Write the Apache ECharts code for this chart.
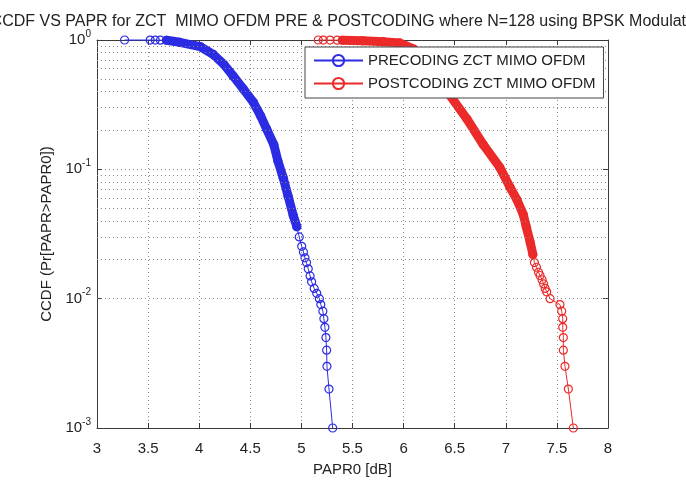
<!DOCTYPE html>
<html>
<head>
<meta charset="utf-8">
<script src="https://cdn.jsdelivr.net/npm/echarts@6/dist/echarts.min.js"></script>
<style>
  html, body { margin: 0; padding: 0; background: #fff; }
  #chart { width: 686px; height: 482px; }
</style>
</head>
<body>
<div id="chart"></div>
<script>
// values: [PAPR0 dB, CCDF]
const preTop = [[3.27, 1.0], [3.52, 0.999], [3.57, 0.998], [3.62, 0.997]];
const preDense = [
  [3.68, 0.996], [3.81, 0.96], [4.01, 0.89], [4.14, 0.77], [4.24, 0.65],
  [4.33, 0.53], [4.43, 0.42], [4.53, 0.33], [4.60, 0.26], [4.66, 0.205],
  [4.73, 0.155], [4.77, 0.116], [4.82, 0.087], [4.87, 0.062], [4.92, 0.044],
  [4.955, 0.036]
];
const preTail = [
  [4.979, 0.030], [5.003, 0.0254], [5.02, 0.023], [5.035, 0.0207], [5.05, 0.019],
  [5.067, 0.017], [5.085, 0.015], [5.10, 0.0135], [5.125, 0.012], [5.15, 0.011],
  [5.176, 0.010], [5.19, 0.009], [5.21, 0.008], [5.22, 0.007], [5.23, 0.006],
  [5.24, 0.005], [5.247, 0.004], [5.25, 0.003], [5.27, 0.002], [5.306, 0.001]
];

const postTop = [[5.165, 1.0], [5.214, 0.999], [5.28, 0.998], [5.35, 0.997]];
const postDense = [
  [5.40, 0.996], [5.60, 0.985], [5.80, 0.97], [5.96, 0.95], [6.10, 0.85],
  [6.25, 0.65], [6.36, 0.50], [6.45, 0.377], [6.62, 0.245], [6.78, 0.155],
  [6.94, 0.104], [7.04, 0.073], [7.11, 0.058], [7.17, 0.045], [7.20, 0.036],
  [7.24, 0.027], [7.265, 0.022]
];
const postTail = [
  [7.28, 0.019], [7.30, 0.0175], [7.32, 0.016], [7.335, 0.0151], [7.355, 0.014],
  [7.37, 0.013], [7.385, 0.012], [7.40, 0.0113], [7.433, 0.010], [7.53, 0.009],
  [7.547, 0.008], [7.557, 0.007], [7.557, 0.006], [7.563, 0.005], [7.563, 0.004],
  [7.579, 0.003], [7.612, 0.002], [7.661, 0.001]
];

const xTicks = [3, 3.5, 4, 4.5, 5, 5.5, 6, 6.5, 7, 7.5, 8];
const yMinorGrid = [0.002, 0.003, 0.004, 0.005, 0.006, 0.007, 0.008, 0.009,
  0.02, 0.03, 0.04, 0.05, 0.06, 0.07, 0.08, 0.09,
  0.2, 0.3, 0.4, 0.5, 0.6, 0.7, 0.8, 0.9];

const titleText = "CCDF VS PAPR for ZCT  MIMO OFDM PRE & POSTCODING where N=128 using BPSK Modulation";
const preName = "PRECODING ZCT MIMO OFDM";
const postName = "POSTCODING ZCT MIMO OFDM";

const FONT = "Liberation Sans";
const BLUE = "#2c2ce4";
const RED = "#ec2a2a";
const AXIS = "#3a3a3a";
const GRIDDOT = { color: "#8a8a8a", width: 1, type: [1, 3] };

const chart = echarts.init(document.getElementById("chart"));

function mainSerie(name, color, data) {
  return {
    name: name,
    type: "line",
    data: data,
    symbol: "circle",
    symbolSize: 8,
    clip: false,
    z: 4,
    itemStyle: { color: "rgba(0,0,0,0)", borderColor: color, borderWidth: 1.2 },
    lineStyle: { color: color, width: 1 },
    emphasis: { disabled: true }
  };
}

function bandSerie(name, color, data) {
  return {
    name: name,
    type: "line",
    data: data,
    symbol: "none",
    clip: false,
    z: 3,
    lineStyle: { color: color, width: 9, cap: "round", join: "round" },
    emphasis: { disabled: true }
  };
}

chart.setOption({
  animation: false,
  backgroundColor: "#fff",
  textStyle: { fontFamily: FONT },
  graphic: [{
    type: "text",
    x: 349,
    y: 22,
    style: {
      text: titleText,
      font: "16px '" + FONT + "'",
      fill: "#222",
      textAlign: "center",
      textVerticalAlign: "middle"
    }
  }],
  grid: { left: 97, right: 78, top: 40, bottom: 41 },
  legend: {
    data: [preName, postName],
    orient: "vertical",
    left: 305,
    top: 47,
    padding: [6, 8, 7, 8],
    itemGap: 8,
    itemWidth: 49,
    itemHeight: 14,
    backgroundColor: "#fff",
    borderColor: "#444",
    borderWidth: 1,
    borderRadius: 0,
    z: 10,
    textStyle: { fontSize: 15, color: "#222", fontFamily: FONT }
  },
  xAxis: [{
    type: "value",
    min: 3,
    max: 8,
    interval: 0.5,
    name: "PAPR0 [dB]",
    nameLocation: "middle",
    nameGap: 34,
    nameTextStyle: { fontSize: 15, color: "#222" },
    axisLine: { lineStyle: { color: AXIS } },
    axisTick: { inside: true, length: 5, lineStyle: { color: AXIS } },
    axisLabel: {
      fontSize: 15, color: "#222", margin: 13,
      formatter: v => xTicks.indexOf(v) >= 0 ? String(v) : ""
    },
    splitLine: { show: true, lineStyle: GRIDDOT }
  }, {
    type: "value",
    position: "top",
    min: 3,
    max: 8,
    interval: 0.5,
    axisLine: { onZero: false, lineStyle: { color: AXIS } },
    axisTick: { inside: true, length: 5, lineStyle: { color: AXIS } },
    axisLabel: { show: false },
    splitLine: { show: false }
  }],
  yAxis: [{
    type: "log",
    logBase: 10,
    min: 0.001,
    max: 1,
    name: "CCDF (Pr[PAPR>PAPR0])",
    nameLocation: "middle",
    nameGap: 38,
    nameTextStyle: { fontSize: 15, color: "#222" },
    axisLine: { show: true, lineStyle: { color: AXIS } },
    axisTick: { show: true, inside: true, length: 5, lineStyle: { color: AXIS } },
    axisLabel: {
      margin: 6,
      formatter: v => "{b|10}{s|" + Math.round(Math.log10(v)) + "}",
      rich: {
        b: { fontSize: 15, color: "#222", fontFamily: FONT },
        s: { fontSize: 10, color: "#222", fontFamily: FONT, padding: [0, 0, 12, 0] }
      }
    },
    splitLine: { show: true, lineStyle: GRIDDOT }
  }, {
    type: "log",
    logBase: 10,
    min: 0.001,
    max: 1,
    position: "right",
    axisLine: { show: true, onZero: false, lineStyle: { color: AXIS } },
    axisTick: { show: true, inside: true, length: 5, lineStyle: { color: AXIS } },
    axisLabel: { show: false },
    splitLine: { show: false }
  }],
  series: [
    {
      name: "minor-grid",
      type: "line",
      data: [],
      z: 1,
      silent: true,
      markLine: {
        silent: true,
        symbol: "none",
        animation: false,
        label: { show: false },
        lineStyle: GRIDDOT,
        emphasis: { disabled: true },
        data: yMinorGrid.map(v => ({ yAxis: v }))
      }
    },
    bandSerie("pre-band", BLUE, preDense),
    bandSerie("post-band", RED, postDense),
    mainSerie(preName, BLUE, preTop.concat(preDense, preTail)),
    mainSerie(postName, RED, postTop.concat(postDense, postTail))
  ]
});
</script>
</body>
</html>
